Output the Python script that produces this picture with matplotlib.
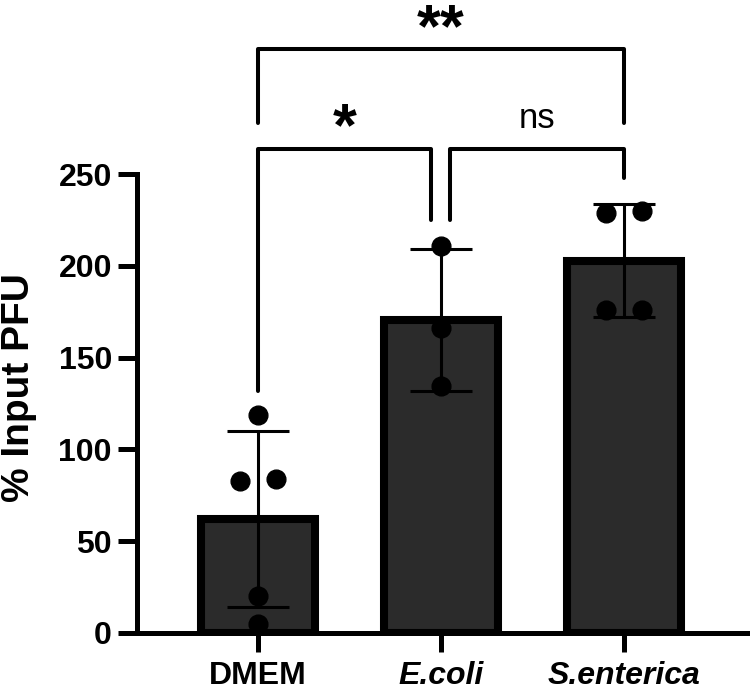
import numpy as np
import matplotlib.pyplot as plt

plt.rcParams['font.family'] = ['Liberation Sans', 'DejaVu Sans']

groups = ['DMEM', 'E.coli', 'S.enterica']
dmem = [119, 83, 84, 20, 5]
ecoli = [211, 166, 134.5]
sent = [229, 230, 176, 176]
# horizontal jitter of the dots (in category units)
dmem_dx = [0, -0.1, 0.1, 0, 0]
ecoli_dx = [0, 0, 0]
sent_dx = [-0.1, 0.1, -0.1, 0.1]

data = [dmem, ecoli, sent]
jit = [dmem_dx, ecoli_dx, sent_dx]
means = [np.mean(d) for d in data]
sds = [np.std(d, ddof=1) for d in data]

W, H = 750, 697
fig = plt.figure(figsize=(W / 100, H / 100), dpi=100)
ax = fig.add_axes([137 / W, 64 / H, (747 - 137) / W, 633 / H])

x = np.arange(3)
ax.bar(x, means, width=0.62, color='#2b2b2b', edgecolor='black', linewidth=5.8, zorder=2)
ax.errorbar(x, means, yerr=sds, fmt='none', ecolor='black', elinewidth=2.2,
            capsize=22, capthick=2.2, zorder=3)
for i in range(3):
    ax.plot(x[i] + np.array(jit[i]), data[i], 'o', color='black', markersize=13.5,
            zorder=4, clip_on=False)

ax.set_xlim(-0.661, 2.672)
ax.set_ylim(0, 344.8)

# significance brackets
lw = 2.9
ax.plot([0, 0, 2, 2], [278, 318, 318, 278], color='black', lw=lw, clip_on=False,
        solid_capstyle='round')
ax.plot([0, 0, 0.945, 0.945], [132, 263.6, 263.6, 225], color='black', lw=lw,
        solid_capstyle='round')
ax.plot([1.05, 1.05, 2, 2], [225, 263.6, 263.6, 248], color='black', lw=lw,
        solid_capstyle='round')
ax.text(1, 319.5, '**', ha='center', va='baseline', fontsize=44, fontweight='bold')
ax.text(0.475, 265.5, '*', ha='center', va='baseline', fontsize=44, fontweight='bold')
ax.text(1.525, 275, 'ns', ha='center', va='baseline', fontsize=25)

for s in ['top', 'right']:
    ax.spines[s].set_visible(False)
ax.spines['left'].set_linewidth(3.6)
ax.spines['bottom'].set_linewidth(3.6)
ax.spines['left'].set_bounds(0, 250)

ax.set_yticks([0, 50, 100, 150, 200, 250])
ax.tick_params(axis='y', length=14, width=3.6, labelsize=23, pad=4)
ax.tick_params(axis='x', length=14, width=3.6, labelsize=23, pad=6)
for t in ax.get_yticklabels():
    t.set_fontweight('bold')
ax.set_xticks(x)
ax.set_xticklabels(groups)
for i, t in enumerate(ax.get_xticklabels()):
    t.set_fontweight('bold')
    if i > 0:
        t.set_fontstyle('italic')

fig.text(19 / W, 1 - 388 / H, '% Input PFU', rotation=90, ha='center', va='center',
         fontsize=28, fontweight='bold')

fig.savefig('out.png', dpi=100)
